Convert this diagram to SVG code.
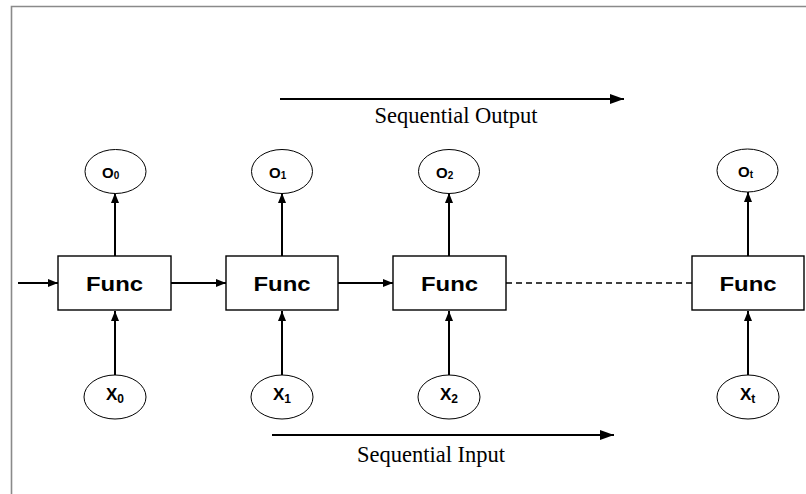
<svg xmlns="http://www.w3.org/2000/svg" width="806" height="494" viewBox="0 0 806 494">
  <style>
    .frame { stroke: #8a8a8a; stroke-width: 1.6; fill: none; }
    .box { fill: #ffffff; stroke: #000000; stroke-width: 1.4; }
    .bubble { fill: #ffffff; stroke: #000000; stroke-width: 1; }
    .edge { stroke: #000000; stroke-width: 2; fill: none; }
    .dash { stroke: #000000; stroke-width: 1.4; stroke-dasharray: 6 4; fill: none; }
    .func { font-family: "Liberation Sans", Arial, sans-serif; font-weight: bold; font-size: 20px; text-anchor: middle; }
    .var { font-family: "Liberation Sans", Arial, sans-serif; font-weight: bold; }
    .caption { font-family: "Liberation Serif", "Times New Roman", serif; font-size: 22.5px; text-anchor: middle; }
  </style>
  <defs>
    <marker id="arrow" viewBox="0 0 10 8" refX="10" refY="4" markerWidth="10" markerHeight="8" markerUnits="userSpaceOnUse" orient="auto">
      <path d="M0,0 L10,4 L0,8 Z" fill="#000000"/>
    </marker>
    <marker id="bigArrow" viewBox="0 0 14 10" refX="14" refY="5" markerWidth="14" markerHeight="10" markerUnits="userSpaceOnUse" orient="auto">
      <path d="M0,0 L14,5 L0,10 Z" fill="#000000"/>
    </marker>
  </defs>

  <rect width="806" height="494" fill="#ffffff"/>
  <!-- frame: top and left edges only -->
  <path class="frame" d="M11.5,494 L11.5,6.5 L806,6.5"/>

  <!-- connectors -->
  <g id="connectors">
    <line class="edge" x1="18" y1="283" x2="58" y2="283" marker-end="url(#arrow)"/>
    <line class="edge" x1="171" y1="283" x2="226" y2="283" marker-end="url(#arrow)"/>
    <line class="edge" x1="338" y1="283" x2="393" y2="283" marker-end="url(#arrow)"/>
    <line class="dash" x1="506" y1="283" x2="692" y2="283"/>

    <line class="edge" x1="115" y1="256" x2="115" y2="193" marker-end="url(#arrow)"/>
    <line class="edge" x1="282" y1="256" x2="282" y2="193" marker-end="url(#arrow)"/>
    <line class="edge" x1="449" y1="256" x2="449" y2="193" marker-end="url(#arrow)"/>
    <line class="edge" x1="748" y1="256" x2="748" y2="192" marker-end="url(#arrow)"/>

    <line class="edge" x1="115" y1="375" x2="115" y2="311" marker-end="url(#arrow)"/>
    <line class="edge" x1="282" y1="375" x2="282" y2="311" marker-end="url(#arrow)"/>
    <line class="edge" x1="449" y1="375" x2="449" y2="311" marker-end="url(#arrow)"/>
    <line class="edge" x1="748" y1="375" x2="748" y2="311" marker-end="url(#arrow)"/>

    <line class="edge" x1="280" y1="99" x2="624" y2="99" marker-end="url(#bigArrow)"/>
    <line class="edge" x1="272" y1="435" x2="614" y2="435" marker-end="url(#bigArrow)"/>
  </g>

  <!-- captions -->
  <text class="caption" x="456" y="123">Sequential Output</text>
  <text class="caption" x="431" y="462">Sequential Input</text>

  <!-- function cells -->
  <g id="func0">
    <rect class="box" x="58" y="256" width="113" height="54"/>
    <text class="func" x="114.5" y="291" textLength="57" lengthAdjust="spacingAndGlyphs">Func</text>
  </g>
  <g id="func1">
    <rect class="box" x="226" y="256" width="112" height="54"/>
    <text class="func" x="282" y="291" textLength="57" lengthAdjust="spacingAndGlyphs">Func</text>
  </g>
  <g id="func2">
    <rect class="box" x="393" y="256" width="113" height="54"/>
    <text class="func" x="449.5" y="291" textLength="57" lengthAdjust="spacingAndGlyphs">Func</text>
  </g>
  <g id="funct">
    <rect class="box" x="692" y="256" width="112" height="54"/>
    <text class="func" x="748" y="291" textLength="57" lengthAdjust="spacingAndGlyphs">Func</text>
  </g>

  <!-- outputs -->
  <g id="o0">
    <ellipse class="bubble" cx="115.5" cy="171.5" rx="30.5" ry="22"/>
    <text class="var" x="102" y="178" font-size="15">O<tspan font-size="10" dy="1">0</tspan></text>
  </g>
  <g id="o1">
    <ellipse class="bubble" cx="282" cy="171.5" rx="30.5" ry="22"/>
    <text class="var" x="269" y="178" font-size="15">O<tspan font-size="10" dy="1">1</tspan></text>
  </g>
  <g id="o2">
    <ellipse class="bubble" cx="449" cy="171.5" rx="30.5" ry="22"/>
    <text class="var" x="436" y="178" font-size="15">O<tspan font-size="10" dy="1">2</tspan></text>
  </g>
  <g id="ot">
    <ellipse class="bubble" cx="747.5" cy="170.5" rx="30.5" ry="21.5"/>
    <text class="var" x="738" y="177" font-size="15">O<tspan font-size="10" dy="1">t</tspan></text>
  </g>

  <!-- inputs -->
  <g id="x0">
    <ellipse class="bubble" cx="115" cy="397" rx="31" ry="22"/>
    <text class="var" x="106" y="400" font-size="17">X<tspan font-size="12" dy="3">0</tspan></text>
  </g>
  <g id="x1">
    <ellipse class="bubble" cx="282" cy="397" rx="31" ry="22"/>
    <text class="var" x="273" y="400" font-size="17">X<tspan font-size="12" dy="3">1</tspan></text>
  </g>
  <g id="x2">
    <ellipse class="bubble" cx="449" cy="397" rx="31" ry="22"/>
    <text class="var" x="440" y="400" font-size="17">X<tspan font-size="12" dy="3">2</tspan></text>
  </g>
  <g id="xt">
    <ellipse class="bubble" cx="748" cy="397" rx="31" ry="22"/>
    <text class="var" x="740" y="400" font-size="17">X<tspan font-size="12" dy="3">t</tspan></text>
  </g>
</svg>
